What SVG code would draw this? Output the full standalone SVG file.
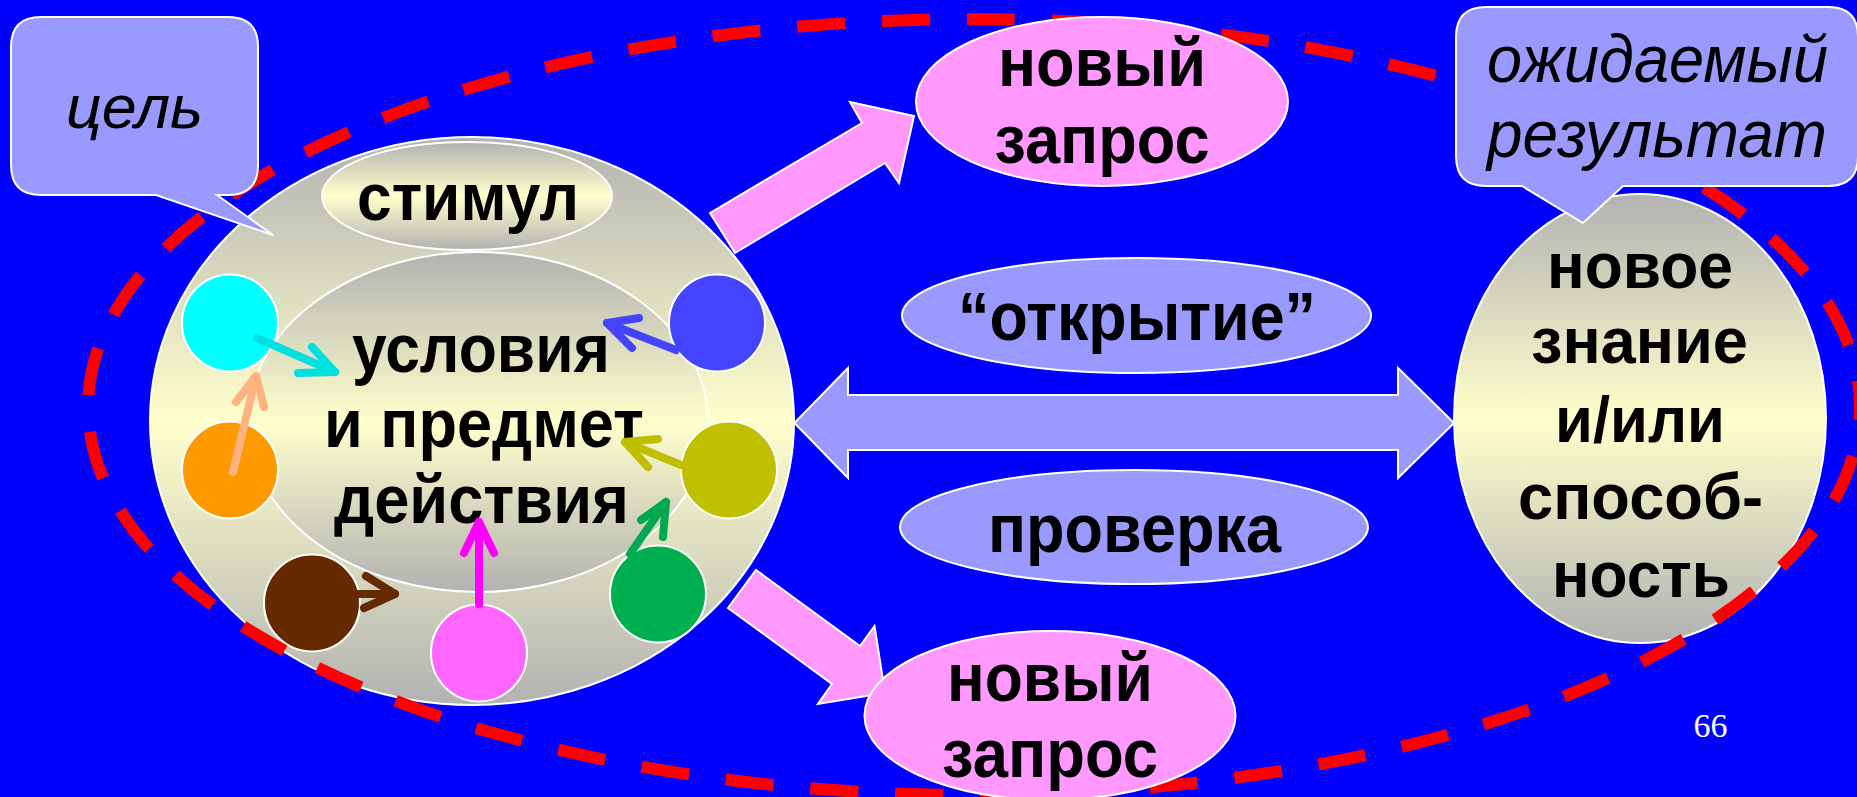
<svg xmlns="http://www.w3.org/2000/svg" width="1857" height="797" viewBox="0 0 1857 797">
<defs>
<linearGradient id="gy" x1="0" y1="0" x2="0" y2="1">
<stop offset="0" stop-color="#B2B2B2"/>
<stop offset="0.5" stop-color="#FFFFCC"/>
<stop offset="1" stop-color="#B2B2B2"/>
</linearGradient>
<style>
.t{font-family:"Liberation Sans",Arial,sans-serif;font-weight:bold;fill:#000;text-anchor:middle}
.ti{font-family:"Liberation Sans",Arial,sans-serif;font-style:italic;fill:#000;text-anchor:middle}
.wl{stroke:#FFFFFF;stroke-width:2}
.grad{fill:url(#gy);stroke:#FFFFFF;stroke-width:2}
.pink{fill:#FF99FF;stroke:#FFFFFF;stroke-width:2}
.lav{fill:#9999FF;stroke:#FFFFFF;stroke-width:2}
.arr{fill:none;stroke-width:8;stroke-linecap:round;stroke-linejoin:round}
</style>
</defs>
<rect x="0" y="0" width="1857" height="797" fill="#0000FF"/>

<g id="left-node">
<ellipse class="grad" cx="472" cy="421" rx="322" ry="284"/>
<g id="stimul">
<ellipse class="grad" cx="467" cy="196" rx="145" ry="54"/>
<text class="t" x="468" y="220" font-size="66" textLength="222" lengthAdjust="spacingAndGlyphs">стимул</text>
</g>
<g id="conditions">
<ellipse class="grad" cx="478" cy="422" rx="230" ry="170"/>
<text class="t" x="481" y="372" font-size="68" textLength="258" lengthAdjust="spacingAndGlyphs">условия</text>
<text class="t" x="484" y="447" font-size="68" textLength="320" lengthAdjust="spacingAndGlyphs">и предмет</text>
<text class="t" x="481.5" y="523" font-size="68" textLength="295" lengthAdjust="spacingAndGlyphs">действия</text>
</g>
<g id="circle-cyan"><ellipse class="wl" cx="230" cy="323" rx="48" ry="48.5" fill="#00FFFF"/></g>
<g id="circle-blue"><ellipse class="wl" cx="717" cy="323" rx="48" ry="48.5" fill="#4444FF"/></g>
<g id="circle-orange"><ellipse class="wl" cx="230" cy="470" rx="48" ry="48.5" fill="#FF9900"/></g>
<g id="circle-olive"><ellipse class="wl" cx="729" cy="470" rx="48" ry="48.5" fill="#C0C000"/></g>
<g id="circle-brown"><ellipse class="wl" cx="312" cy="603" rx="48" ry="48.5" fill="#662A00"/></g>
<g id="circle-pink"><ellipse class="wl" cx="479" cy="653" rx="48" ry="48.5" fill="#FF66FF"/></g>
<g id="circle-green"><ellipse class="wl" cx="658" cy="594" rx="48" ry="48.5" fill="#00B050"/></g>
</g>

<g id="connectors">
<g stroke="#00E0E0" class="arr"><path d="M257 338 L335 372"/><path d="M312 347 L335 372 L298 373"/></g>
<g stroke="#FFB380" class="arr"><path d="M233 472 L256 376"/><path d="M236 402 L256 376 L264 407"/></g>
<g stroke="#4444FF" class="arr"><path d="M676 350 L607 323"/><path d="M639 318 L607 323 L632 348"/></g>
<g stroke="#BFBF00" class="arr"><path d="M681 465 L625 442"/><path d="M658 439 L625 442 L648 467"/></g>
<g stroke="#00A850" class="arr"><path d="M630 554 L666 502"/><path d="M641 520 L666 502 L663 537"/></g>
<g stroke="#662A00" class="arr"><path d="M340 594 L395 594"/><path d="M366 576 L395 594 L364 608"/></g>
<g stroke="#FF00FF" class="arr"><path d="M479 604 L479 522"/><path d="M464 553 L479 522 L494 553"/></g>
<polygon id="arrow-up" class="pink" points="710,213 735,253 885,163 899,183 914,116 850,102 862,123"/>
<polygon id="arrow-down" class="pink" points="756,570 860,646 874.5,626 885,693 818,704 832,684 728,608"/>
<polygon id="arrow-both" class="lav" points="794.5,423 848,368 848,395 1398,395 1398,368 1454,423 1398,478 1398,450 848,450 848,478"/>
</g>

<g id="right-node">
<ellipse class="grad" cx="1640" cy="418.5" rx="186" ry="224.5"/>
<text class="t" x="1640" y="288" font-size="64" textLength="186" lengthAdjust="spacingAndGlyphs">новое</text>
<text class="t" x="1639.5" y="363" font-size="64" textLength="217" lengthAdjust="spacingAndGlyphs">знание</text>
<text class="t" x="1640" y="442" font-size="64" textLength="170" lengthAdjust="spacingAndGlyphs">и/или</text>
<text class="t" x="1640.5" y="519" font-size="64" textLength="245" lengthAdjust="spacingAndGlyphs">способ-</text>
<text class="t" x="1641" y="597" font-size="64" textLength="178" lengthAdjust="spacingAndGlyphs">ность</text>
</g>

<ellipse id="boundary" cx="974" cy="407" rx="886" ry="388" fill="none" stroke="#FF0000" stroke-width="12" stroke-dasharray="48 37" stroke-dashoffset="35"/>

<g id="new-request-top">
<ellipse class="pink" cx="1102" cy="101.5" rx="186" ry="84.5"/>
<text class="t" x="1102" y="86" font-size="68" textLength="208" lengthAdjust="spacingAndGlyphs">новый</text>
<text class="t" x="1102" y="163" font-size="68" textLength="215" lengthAdjust="spacingAndGlyphs">запрос</text>
</g>
<g id="new-request-bottom">
<ellipse class="pink" cx="1050" cy="715.5" rx="185.5" ry="84.5"/>
<text class="t" x="1050" y="701" font-size="68" textLength="206" lengthAdjust="spacingAndGlyphs">новый</text>
<text class="t" x="1050" y="777" font-size="68" textLength="216" lengthAdjust="spacingAndGlyphs">запрос</text>
</g>
<g id="discovery">
<ellipse class="lav" cx="1136.5" cy="315.5" rx="234.5" ry="57.5"/>
<text class="t" x="1137" y="340" font-size="69" textLength="358" lengthAdjust="spacingAndGlyphs">“открытие”</text>
</g>
<g id="check">
<ellipse class="lav" cx="1134" cy="527" rx="234" ry="57"/>
<text class="t" x="1134.5" y="552" font-size="69" textLength="293" lengthAdjust="spacingAndGlyphs">проверка</text>
</g>

<g id="callout-goal">
<path class="lav" d="M41 17 H228 Q258 17 258 47 V165 Q258 195 228 195 H217 L273 235 L156 195 H41 Q11 195 11 165 V47 Q11 17 41 17 Z"/>
<text class="ti" x="134.5" y="128" font-size="62" textLength="137" lengthAdjust="spacingAndGlyphs">цель</text>
</g>
<g id="callout-result">
<path class="lav" d="M1486 7 H1828 Q1858 7 1858 37 V156 Q1858 186 1828 186 H1623 L1583 223 L1522 186 H1486 Q1456 186 1456 156 V37 Q1456 7 1486 7 Z"/>
<text class="ti" x="1657.5" y="82" font-size="67" textLength="341" lengthAdjust="spacingAndGlyphs">ожидаемый</text>
<text class="ti" x="1657" y="157" font-size="67" textLength="340" lengthAdjust="spacingAndGlyphs">результат</text>
</g>

<text x="1710.5" y="737" font-family="'Liberation Serif','Times New Roman',serif" font-size="34" fill="#FFFFFF" text-anchor="middle">66</text>
</svg>
